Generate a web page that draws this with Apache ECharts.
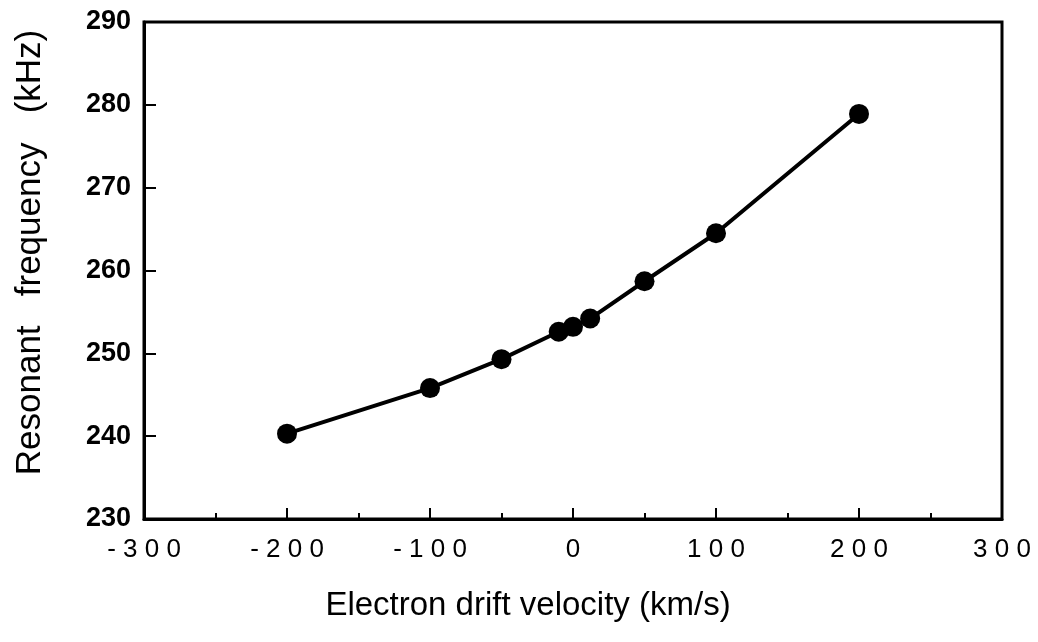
<!DOCTYPE html>
<html>
<head>
<meta charset="utf-8">
<script src="https://cdn.jsdelivr.net/npm/echarts@6/dist/echarts.min.js"></script>
<style>
  html, body { margin: 0; padding: 0; background: #fff; }
  #chart { width: 1038px; height: 642px; }
</style>
</head>
<body>
<div id="chart"></div>
<script>
// Electron drift velocity (km/s) and measured resonant frequency (kHz)
var velocity = [-200, -100, -50, -10, 0, 12, 50, 100, 200];
var frequency = [240.3, 245.8, 249.3, 252.6, 253.2, 254.2, 258.7, 264.5, 278.9];

var xRange = { min: -300, max: 300, interval: 100 };
var yRange = { min: 230, max: 290, interval: 10 };

var points = velocity.map(function (v, i) { return [v, frequency[i]]; });

// spread out the digits of the x tick labels
function spaced(v) { return String(v).split('').join(' '); }

var chart = echarts.init(document.getElementById('chart'));
chart.setOption({
  animation: false,
  backgroundColor: '#ffffff',
  grid: {
    left: 144, right: 36, top: 22, bottom: 123,
    show: true, borderColor: '#000', borderWidth: 3
  },
  xAxis: {
    type: 'value',
    min: xRange.min, max: xRange.max, interval: xRange.interval,
    name: 'Electron drift velocity (km/s)',
    nameLocation: 'middle',
    nameGap: 70,
    nameTextStyle: {
      fontFamily: 'Liberation Sans', fontSize: 33, color: '#000',
      padding: [0, 90, 0, 0]
    },
    axisLine: { onZero: false, lineStyle: { color: '#000', width: 3 } },
    axisTick: { inside: true, length: 11, lineStyle: { color: '#000', width: 2 } },
    minorTick: { show: true, splitNumber: 2, length: 6, lineStyle: { color: '#000', width: 2 } },
    splitLine: { show: false },
    axisLabel: {
      fontFamily: 'Liberation Sans', fontSize: 26, color: '#000', margin: 18,
      formatter: spaced
    }
  },
  yAxis: {
    type: 'value',
    min: yRange.min, max: yRange.max, interval: yRange.interval,
    name: 'Resonant   frequency   (kHz)',
    nameLocation: 'middle',
    nameRotate: 90,
    nameGap: 96,
    nameTextStyle: {
      fontFamily: 'Liberation Sans', fontSize: 35, color: '#000',
      padding: [0, 0, 0, 36]
    },
    axisLine: { onZero: false, lineStyle: { color: '#000', width: 3 } },
    axisTick: { inside: true, length: 12, lineStyle: { color: '#000', width: 2 } },
    splitLine: { show: false },
    axisLabel: {
      fontFamily: 'Liberation Sans', fontSize: 27, fontWeight: 'bold', color: '#000', margin: 13
    }
  },
  series: [{
    type: 'line',
    data: points,
    symbol: 'circle',
    symbolSize: 20,
    itemStyle: { color: '#000' },
    lineStyle: { color: '#000', width: 4 }
  }]
});
</script>
</body>
</html>
